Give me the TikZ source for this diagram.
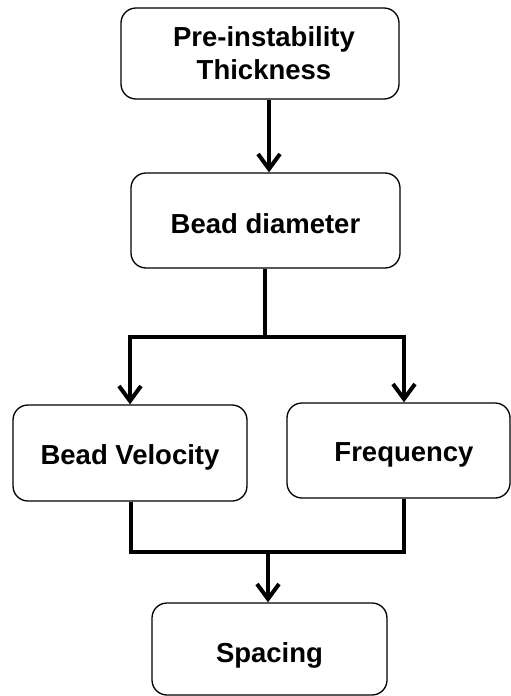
\documentclass[tikz,border=0pt]{standalone}
\usepackage{fontspec}
\setmainfont{Liberation Sans}
\usetikzlibrary{arrows.meta}
\newcommand{\lowerby}[2]{\raisebox{-#1}[\height][\depth]{#2}}
\begin{document}
\begin{tikzpicture}[x=1pt,y=-1pt,
  box/.style={draw=black, line width=1.3pt, rounded corners=15pt, fill=white,
    align=center, inner sep=0pt,
    font=\fontsize{27.5}{33}\selectfont\bfseries},
  conn/.style={line width=4pt, line join=miter},
  arr/.style={conn, -{Straight Barb[length=15pt,width=22pt,line width=4pt]}}]
\useasboundingbox (0,0) rectangle (511,696);
\node[box, minimum width=278pt, minimum height=91pt] (b1) at (260,53.5) {\hspace*{8pt}Pre-instability\\\hspace*{8pt}Thickness};
\node[box, minimum width=269pt, minimum height=95pt] (b2) at (265.5,220.5) {\lowerby{3pt}{Bead diameter}};
\node[box, minimum width=234pt, minimum height=96pt] (b3) at (130,453) {\lowerby{4pt}{Bead Velocity}};
\node[box, minimum width=223pt, minimum height=95pt] (b4) at (398.5,450.5) {\hspace*{11pt}\lowerby{4pt}{Frequency}};
\node[box, minimum width=235pt, minimum height=92pt] (b5) at (269.5,649) {\lowerby{6pt}{Spacing}};
% junction coordinates
\coordinate (ax1) at (269,0);
\coordinate (ax2) at (265,0);
\coordinate (split) at (265,337);
\coordinate (sl) at (130,337);
\coordinate (sr) at (404,337);
\coordinate (ml) at (131,552);
\coordinate (mr) at (404,552);
\coordinate (mc) at (268,552);
\draw[arr] (b1.south -| ax1) -- (b2.north -| ax1);
\draw[conn] (b2.south -| ax2) -- (split);
\draw[arr] (split) -- (sl) -- (b3.north -| sl);
\draw[arr] (split) -- (sr) -- (b4.north -| sr);
\draw[conn] (b3.south -| ml) -- (ml) -- (mr) -- (b4.south -| mr);
\draw[arr] (mc) -- (b5.north -| mc);
\end{tikzpicture}
\end{document}
